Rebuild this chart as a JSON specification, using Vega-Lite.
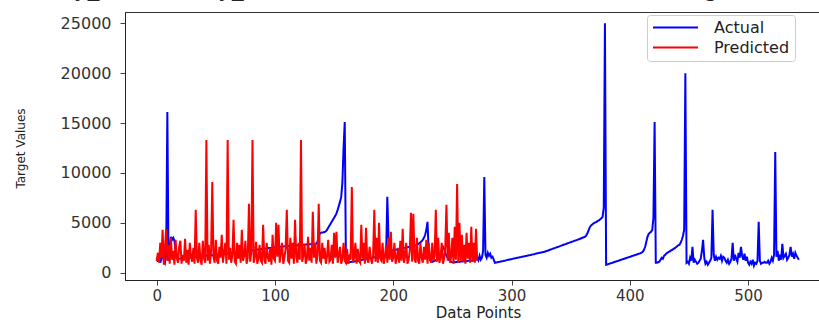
{
"$schema": "https://vega.github.io/schema/vega-lite/v6.json",
"width": 694, "height": 268,
"autosize": {"type": "none"},
"padding": {"left": 125, "top": 12, "right": 0, "bottom": 40},
"background": "white",
"config": {"view": {"stroke": "#333", "strokeWidth": 1}, "font": "DejaVu Sans"},
"title": {"text": "y_fitted and y_actual in tested model (machine learning model)", "fontSize": 23, "font": "DejaVu Sans", "fontWeight": "normal", "color": "#222", "anchor": "middle", "dx": -32, "offset": -7, "baseline": "alphabetic", "limit": 3000},
"data": {"values": [
{"i":0,"a":1500,"p":1200},{"i":1,"a":1100,"p":2000},{"i":2,"a":1900,"p":1000},{"i":3,"a":1000,"p":3000},{"i":4,"a":1400,"p":1500},{"i":5,"a":2300,"p":4300},{"i":6,"a":1300,"p":800},{"i":7,"a":1000,"p":2500},{"i":8,"a":1700,"p":4400},{"i":9,"a":16100,"p":1200},
{"i":10,"a":1200,"p":2800},{"i":11,"a":2000,"p":900},{"i":12,"a":3600,"p":3500},{"i":13,"a":3300,"p":1300},{"i":14,"a":3500,"p":2200},{"i":15,"a":3200,"p":800},{"i":16,"a":2300,"p":3300},{"i":17,"a":1600,"p":1500},{"i":18,"a":1400,"p":1000},{"i":19,"a":1400,"p":2600},
{"i":20,"a":1420,"p":3200},{"i":21,"a":1450,"p":900},{"i":22,"a":1430,"p":1800},{"i":23,"a":1460,"p":1200},{"i":24,"a":1480,"p":3400},{"i":25,"a":1470,"p":1000},{"i":26,"a":1500,"p":2300},{"i":27,"a":1520,"p":800},{"i":28,"a":1510,"p":3000},{"i":29,"a":1540,"p":1600},
{"i":30,"a":1550,"p":1100},{"i":31,"a":1570,"p":2500},{"i":32,"a":1560,"p":900},{"i":33,"a":1590,"p":6300},{"i":34,"a":1600,"p":1500},{"i":35,"a":1620,"p":1000},{"i":36,"a":1610,"p":3000},{"i":37,"a":1640,"p":1300},{"i":38,"a":1650,"p":800},{"i":39,"a":1670,"p":3200},
{"i":40,"a":1660,"p":1500},{"i":41,"a":1690,"p":1000},{"i":42,"a":1700,"p":13300},{"i":43,"a":1720,"p":1200},{"i":44,"a":1710,"p":2800},{"i":45,"a":1740,"p":900},{"i":46,"a":1750,"p":2200},{"i":47,"a":1760,"p":9100},{"i":48,"a":1770,"p":1600},{"i":49,"a":1790,"p":1000},
{"i":50,"a":1780,"p":3300},{"i":51,"a":1800,"p":1200},{"i":52,"a":1820,"p":900},{"i":53,"a":1810,"p":2600},{"i":54,"a":1840,"p":1500},{"i":55,"a":1850,"p":3800},{"i":56,"a":1870,"p":1000},{"i":57,"a":1860,"p":2000},{"i":58,"a":1890,"p":3000},{"i":59,"a":1900,"p":900},
{"i":60,"a":1920,"p":13300},{"i":61,"a":1930,"p":1300},{"i":62,"a":1950,"p":2500},{"i":63,"a":1960,"p":1000},{"i":64,"a":1980,"p":1800},{"i":65,"a":2000,"p":5300},{"i":66,"a":2010,"p":1100},{"i":67,"a":2030,"p":900},{"i":68,"a":2040,"p":3000},{"i":69,"a":2060,"p":1400},
{"i":70,"a":2080,"p":2800},{"i":71,"a":2090,"p":1000},{"i":72,"a":2110,"p":4300},{"i":73,"a":2120,"p":1200},{"i":74,"a":2140,"p":1700},{"i":75,"a":2160,"p":3200},{"i":76,"a":2170,"p":900},{"i":77,"a":2190,"p":1500},{"i":78,"a":2200,"p":6900},{"i":79,"a":2220,"p":1100},
{"i":80,"a":2240,"p":2000},{"i":81,"a":2250,"p":13300},{"i":82,"a":2270,"p":1000},{"i":83,"a":2280,"p":1600},{"i":84,"a":2300,"p":3100},{"i":85,"a":2320,"p":900},{"i":86,"a":2330,"p":1400},{"i":87,"a":2350,"p":2800},{"i":88,"a":2360,"p":1200},{"i":89,"a":2380,"p":1000},
{"i":90,"a":2400,"p":4800},{"i":91,"a":2410,"p":1300},{"i":92,"a":2430,"p":900},{"i":93,"a":2440,"p":3000},{"i":94,"a":2460,"p":1500},{"i":95,"a":2480,"p":1100},{"i":96,"a":2490,"p":2500},{"i":97,"a":2510,"p":800},{"i":98,"a":2520,"p":3800},{"i":99,"a":2540,"p":1400},
{"i":100,"a":2560,"p":1200},{"i":101,"a":2570,"p":5000},{"i":102,"a":2580,"p":1600},{"i":103,"a":2590,"p":4800},{"i":104,"a":2600,"p":1000},{"i":105,"a":2610,"p":2000},{"i":106,"a":2620,"p":3000},{"i":107,"a":2630,"p":900},{"i":108,"a":2640,"p":1500},{"i":109,"a":2650,"p":2400},
{"i":110,"a":2660,"p":6300},{"i":111,"a":2670,"p":1200},{"i":112,"a":2680,"p":1000},{"i":113,"a":2690,"p":3500},{"i":114,"a":2700,"p":1400},{"i":115,"a":2710,"p":3000},{"i":116,"a":2720,"p":900},{"i":117,"a":2730,"p":5300},{"i":118,"a":2740,"p":1600},{"i":119,"a":2750,"p":1000},
{"i":120,"a":2760,"p":3000},{"i":121,"a":2770,"p":1300},{"i":122,"a":2780,"p":13300},{"i":123,"a":2790,"p":1100},{"i":124,"a":2800,"p":1700},{"i":125,"a":2810,"p":2900},{"i":126,"a":2820,"p":900},{"i":127,"a":2830,"p":1400},{"i":128,"a":2840,"p":3600},{"i":129,"a":2850,"p":1200},
{"i":130,"a":2860,"p":2500},{"i":131,"a":2870,"p":1000},{"i":132,"a":2880,"p":6100},{"i":133,"a":2890,"p":1500},{"i":134,"a":2900,"p":3000},{"i":135,"a":2910,"p":900},{"i":136,"a":3100,"p":1800},{"i":137,"a":3600,"p":6900},{"i":138,"a":3950,"p":1200},{"i":139,"a":4000,"p":1000},
{"i":140,"a":4020,"p":3000},{"i":141,"a":4050,"p":1400},{"i":142,"a":4080,"p":2500},{"i":143,"a":4150,"p":900},{"i":144,"a":4300,"p":1600},{"i":145,"a":4500,"p":3300},{"i":146,"a":4700,"p":1100},{"i":147,"a":4900,"p":1300},{"i":148,"a":5100,"p":2800},{"i":149,"a":5300,"p":900},
{"i":150,"a":5500,"p":4000},{"i":151,"a":5700,"p":1500},{"i":152,"a":5950,"p":4100},{"i":153,"a":6300,"p":1000},{"i":154,"a":6700,"p":1700},{"i":155,"a":7100,"p":2600},{"i":156,"a":7600,"p":900},{"i":157,"a":9000,"p":1400},{"i":158,"a":12500,"p":3000},{"i":159,"a":15100,"p":1200},
{"i":160,"a":1000,"p":1000},{"i":161,"a":1010,"p":2400},{"i":162,"a":1030,"p":900},{"i":163,"a":1050,"p":1600},{"i":164,"a":1070,"p":1300},{"i":165,"a":1090,"p":8600},{"i":166,"a":1110,"p":1100},{"i":167,"a":1130,"p":1500},{"i":168,"a":1150,"p":3000},{"i":169,"a":1170,"p":900},
{"i":170,"a":1190,"p":2400},{"i":171,"a":1210,"p":1200},{"i":172,"a":1230,"p":1000},{"i":173,"a":1260,"p":4800},{"i":174,"a":1290,"p":1400},{"i":175,"a":1320,"p":3000},{"i":176,"a":1350,"p":900},{"i":177,"a":1400,"p":4500},{"i":178,"a":1420,"p":1300},{"i":179,"a":1440,"p":1000},
{"i":180,"a":1460,"p":2600},{"i":181,"a":1480,"p":1500},{"i":182,"a":1500,"p":900},{"i":183,"a":1520,"p":1800},{"i":184,"a":1540,"p":6300},{"i":185,"a":1560,"p":1100},{"i":186,"a":1580,"p":3500},{"i":187,"a":1600,"p":1000},{"i":188,"a":1620,"p":5000},{"i":189,"a":1640,"p":1400},
{"i":190,"a":1660,"p":1200},{"i":191,"a":1690,"p":3000},{"i":192,"a":1720,"p":900},{"i":193,"a":1760,"p":1600},{"i":194,"a":1900,"p":2800},{"i":195,"a":7600,"p":1000},{"i":196,"a":3500,"p":3500},{"i":197,"a":2400,"p":1300},{"i":198,"a":2200,"p":4100},{"i":199,"a":2230,"p":1100},
{"i":200,"a":2250,"p":1500},{"i":201,"a":2280,"p":3000},{"i":202,"a":2300,"p":900},{"i":203,"a":2330,"p":1400},{"i":204,"a":2350,"p":2500},{"i":205,"a":2380,"p":1000},{"i":206,"a":2400,"p":3200},{"i":207,"a":2430,"p":1200},{"i":208,"a":2450,"p":4400},{"i":209,"a":2480,"p":1000},
{"i":210,"a":2500,"p":1600},{"i":211,"a":2530,"p":3000},{"i":212,"a":2550,"p":900},{"i":213,"a":2580,"p":1300},{"i":214,"a":2600,"p":2200},{"i":215,"a":2630,"p":6000},{"i":216,"a":2650,"p":1100},{"i":217,"a":2680,"p":5900},{"i":218,"a":2700,"p":1400},{"i":219,"a":2740,"p":1000},
{"i":220,"a":2780,"p":3500},{"i":221,"a":2850,"p":1200},{"i":222,"a":2950,"p":900},{"i":223,"a":3050,"p":3000},{"i":224,"a":3150,"p":1500},{"i":225,"a":3300,"p":1000},{"i":226,"a":3500,"p":2600},{"i":227,"a":3800,"p":1300},{"i":228,"a":4300,"p":3300},{"i":229,"a":5100,"p":900},
{"i":230,"a":1900,"p":3000},{"i":231,"a":1300,"p":1400},{"i":232,"a":1200,"p":1000},{"i":233,"a":1100,"p":3000},{"i":234,"a":1150,"p":1200},{"i":235,"a":1200,"p":1700},{"i":236,"a":1250,"p":6300},{"i":237,"a":1300,"p":1100},{"i":238,"a":1400,"p":3500},{"i":239,"a":1600,"p":1000},
{"i":240,"a":1900,"p":1500},{"i":241,"a":2300,"p":3000},{"i":242,"a":2600,"p":900},{"i":243,"a":2400,"p":1400},{"i":244,"a":2000,"p":2600},{"i":245,"a":1700,"p":6800},{"i":246,"a":1500,"p":1200},{"i":247,"a":1300,"p":4000},{"i":248,"a":1200,"p":1000},{"i":249,"a":1100,"p":1600},
{"i":250,"a":1050,"p":3500},{"i":251,"a":1050,"p":900},{"i":252,"a":1080,"p":4600},{"i":253,"a":1060,"p":1300},{"i":254,"a":1100,"p":8900},{"i":255,"a":1120,"p":1000},{"i":256,"a":1090,"p":5000},{"i":257,"a":1130,"p":1200},{"i":258,"a":1150,"p":3800},{"i":259,"a":1120,"p":1100},
{"i":260,"a":1160,"p":2800},{"i":261,"a":1180,"p":900},{"i":262,"a":1150,"p":4000},{"i":263,"a":1190,"p":1400},{"i":264,"a":1200,"p":3000},{"i":265,"a":1170,"p":1000},{"i":266,"a":1210,"p":4600},{"i":267,"a":1230,"p":1200},{"i":268,"a":1200,"p":3000},{"i":269,"a":1250,"p":1000},
{"i":270,"a":1300,"p":4400},{"i":271,"a":1500,"p":1200},{"i":272,"a":1250},{"i":273,"a":1700},{"i":274,"a":1300},{"i":275,"a":1500},{"i":276,"a":2200},{"i":277,"a":9600},{"i":278,"a":1800},{"i":279,"a":1500},
{"i":280,"a":2000},{"i":281,"a":1700},{"i":282,"a":1900},{"i":283,"a":1500},{"i":284,"a":1600},{"i":285,"a":1300},{"i":286,"a":1000},{"i":287,"a":1030},{"i":288,"a":1050},{"i":289,"a":1080},
{"i":290,"a":1100},{"i":291,"a":1130},{"i":292,"a":1160},{"i":293,"a":1180},{"i":294,"a":1210},{"i":295,"a":1230},{"i":296,"a":1260},{"i":297,"a":1290},{"i":298,"a":1310},{"i":299,"a":1340},
{"i":300,"a":1360},{"i":301,"a":1390},{"i":302,"a":1420},{"i":303,"a":1440},{"i":304,"a":1470},{"i":305,"a":1500},{"i":306,"a":1520},{"i":307,"a":1550},{"i":308,"a":1570},{"i":309,"a":1600},
{"i":310,"a":1630},{"i":311,"a":1650},{"i":312,"a":1680},{"i":313,"a":1700},{"i":314,"a":1730},{"i":315,"a":1760},{"i":316,"a":1780},{"i":317,"a":1810},{"i":318,"a":1840},{"i":319,"a":1860},
{"i":320,"a":1890},{"i":321,"a":1920},{"i":322,"a":1940},{"i":323,"a":1970},{"i":324,"a":2000},{"i":325,"a":2020},{"i":326,"a":2050},{"i":327,"a":2080},{"i":328,"a":2100},{"i":329,"a":2150},
{"i":330,"a":2190},{"i":331,"a":2230},{"i":332,"a":2280},{"i":333,"a":2320},{"i":334,"a":2360},{"i":335,"a":2410},{"i":336,"a":2450},{"i":337,"a":2490},{"i":338,"a":2540},{"i":339,"a":2580},
{"i":340,"a":2620},{"i":341,"a":2670},{"i":342,"a":2710},{"i":343,"a":2750},{"i":344,"a":2800},{"i":345,"a":2840},{"i":346,"a":2880},{"i":347,"a":2930},{"i":348,"a":2970},{"i":349,"a":3010},
{"i":350,"a":3060},{"i":351,"a":3100},{"i":352,"a":3140},{"i":353,"a":3190},{"i":354,"a":3230},{"i":355,"a":3270},{"i":356,"a":3320},{"i":357,"a":3360},{"i":358,"a":3400},{"i":359,"a":3450},
{"i":360,"a":3500},{"i":361,"a":3550},{"i":362,"a":3600},{"i":363,"a":3700},{"i":364,"a":3900},{"i":365,"a":4200},{"i":366,"a":4500},{"i":367,"a":4700},{"i":368,"a":4800},{"i":369,"a":4900},
{"i":370,"a":5000},{"i":371,"a":5050},{"i":372,"a":5100},{"i":373,"a":5200},{"i":374,"a":5250},{"i":375,"a":5350},{"i":376,"a":5450},{"i":377,"a":5600},{"i":378,"a":6500},{"i":379,"a":25000},
{"i":380,"a":800},{"i":381,"a":830},{"i":382,"a":870},{"i":383,"a":910},{"i":384,"a":950},{"i":385,"a":990},{"i":386,"a":1030},{"i":387,"a":1070},{"i":388,"a":1110},{"i":389,"a":1150},
{"i":390,"a":1190},{"i":391,"a":1230},{"i":392,"a":1270},{"i":393,"a":1310},{"i":394,"a":1350},{"i":395,"a":1390},{"i":396,"a":1430},{"i":397,"a":1470},{"i":398,"a":1510},{"i":399,"a":1550},
{"i":400,"a":1590},{"i":401,"a":1630},{"i":402,"a":1670},{"i":403,"a":1710},{"i":404,"a":1750},{"i":405,"a":1790},{"i":406,"a":1830},{"i":407,"a":1870},{"i":408,"a":1910},{"i":409,"a":1950},
{"i":410,"a":2000},{"i":411,"a":2100},{"i":412,"a":2300},{"i":413,"a":2600},{"i":414,"a":3100},{"i":415,"a":3600},{"i":416,"a":3900},{"i":417,"a":4000},{"i":418,"a":4100},{"i":419,"a":4300},
{"i":420,"a":5500},{"i":421,"a":15100},{"i":422,"a":1000},{"i":423,"a":1000},{"i":424,"a":1050},{"i":425,"a":1100},{"i":426,"a":1300},{"i":427,"a":1500},{"i":428,"a":1400},{"i":429,"a":1700},
{"i":430,"a":1800},{"i":431,"a":1950},{"i":432,"a":2000},{"i":433,"a":2100},{"i":434,"a":2150},{"i":435,"a":2250},{"i":436,"a":2300},{"i":437,"a":2400},{"i":438,"a":2450},{"i":439,"a":2550},
{"i":440,"a":2650},{"i":441,"a":2750},{"i":442,"a":2800},{"i":443,"a":3000},{"i":444,"a":3300},{"i":445,"a":3700},{"i":446,"a":4300},{"i":447,"a":20000},{"i":448,"a":1000},{"i":449,"a":1100},
{"i":450,"a":900},{"i":451,"a":1500},{"i":452,"a":1200},{"i":453,"a":2600},{"i":454,"a":1000},{"i":455,"a":1300},{"i":456,"a":1100},{"i":457,"a":900},{"i":458,"a":1000},{"i":459,"a":1200},
{"i":460,"a":1400},{"i":461,"a":2200},{"i":462,"a":3300},{"i":463,"a":1500},{"i":464,"a":900},{"i":465,"a":1100},{"i":466,"a":800},{"i":467,"a":1000},{"i":468,"a":1200},{"i":469,"a":1500},
{"i":470,"a":6300},{"i":471,"a":1800},{"i":472,"a":1200},{"i":473,"a":1600},{"i":474,"a":1300},{"i":475,"a":1500},{"i":476,"a":1400},{"i":477,"a":1700},{"i":478,"a":1200},{"i":479,"a":1600},
{"i":480,"a":1500},{"i":481,"a":1200},{"i":482,"a":1000},{"i":483,"a":1300},{"i":484,"a":900},{"i":485,"a":1100},{"i":486,"a":1400},{"i":487,"a":3000},{"i":488,"a":1200},{"i":489,"a":1800},
{"i":490,"a":1400},{"i":491,"a":1100},{"i":492,"a":2000},{"i":493,"a":1500},{"i":494,"a":2600},{"i":495,"a":1700},{"i":496,"a":1300},{"i":497,"a":1900},{"i":498,"a":1200},{"i":499,"a":1600},
{"i":500,"a":1000},{"i":501,"a":800},{"i":502,"a":1100},{"i":503,"a":900},{"i":504,"a":1300},{"i":505,"a":700},{"i":506,"a":1000},{"i":507,"a":900},{"i":508,"a":1200},{"i":509,"a":5100},
{"i":510,"a":1200},{"i":511,"a":900},{"i":512,"a":1000},{"i":513,"a":1000},{"i":514,"a":1100},{"i":515,"a":1000},{"i":516,"a":1000},{"i":517,"a":1200},{"i":518,"a":900},{"i":519,"a":1100},
{"i":520,"a":1500},{"i":521,"a":1200},{"i":522,"a":1800},{"i":523,"a":12100},{"i":524,"a":1600},{"i":525,"a":2200},{"i":526,"a":1200},{"i":527,"a":1800},{"i":528,"a":1300},{"i":529,"a":2900},
{"i":530,"a":1500},{"i":531,"a":1700},{"i":532,"a":1900},{"i":533,"a":1300},{"i":534,"a":1500},{"i":535,"a":1800},{"i":536,"a":2600},{"i":537,"a":1600},{"i":538,"a":1900},{"i":539,"a":1400},
{"i":540,"a":2000},{"i":541,"a":1700},{"i":542,"a":1500},{"i":543,"a":1300}
]},
"encoding": {
  "x": {"field": "i", "type": "quantitative", "scale": {"domain": [-26.8, 560], "nice": false, "zero": false},
    "axis": {"values": [0, 100, 200, 300, 400, 500], "format": "d", "title": "Data Points", "titleFontSize": 15, "titleFontWeight": "normal", "titleColor": "#222", "titleFont": "DejaVu Sans", "titleX": 353, "titleY": 25, "titleBaseline": "top", "titleAlign": "center",
      "labelFontSize": 15, "labelFont": "DejaVu Sans", "labelColor": "#333", "labelPadding": 3, "labelFlush": false, "tickColor": "#444", "tickSize": 5, "domainColor": "#222", "grid": false}}
},
"layer": [
  {"mark": {"type": "line", "strokeWidth": 2, "clip": true},
   "encoding": {
     "y": {"field": "a", "type": "quantitative", "title": "Target Values", "scale": {"domain": [-730, 26130], "nice": false, "zero": false},
       "axis": {"values": [0, 5000, 10000, 15000, 20000, 25000], "format": "d", "titleFontSize": 12, "titleFontWeight": "normal", "titleColor": "#222", "titleFont": "DejaVu Sans", "titleX": -105, "titleY": 136, "titleAngle": 270, "titleAlign": "center", "titleBaseline": "middle",
         "labelFontSize": 16, "labelFont": "DejaVu Sans", "labelColor": "#333", "labelPadding": 9, "tickColor": "#444", "tickSize": 5, "domainColor": "#222", "grid": false}},
     "color": {"datum": "Actual", "type": "nominal", "scale": {"domain": ["Actual", "Predicted"], "range": ["#0000ff", "#ff0000"]},
       "legend": {"title": null, "orient": "none", "legendX": 522, "legendY": 3, "symbolType": "stroke", "symbolSize": 2025, "symbolStrokeWidth": 2, "clipHeight": 15, "labelFontSize": 16, "labelFont": "DejaVu Sans", "labelColor": "#222", "strokeColor": "#ccc", "fillColor": "white", "padding": 5, "rowPadding": 3, "labelOffset": 15, "cornerRadius": 3}}
   }},
  {"transform": [{"filter": "isValid(datum.p)"}],
   "mark": {"type": "line", "strokeWidth": 2, "clip": true},
   "encoding": {
     "y": {"field": "p", "type": "quantitative", "title": "Target Values"},
     "color": {"datum": "Predicted", "type": "nominal"}
   }}
]
}
